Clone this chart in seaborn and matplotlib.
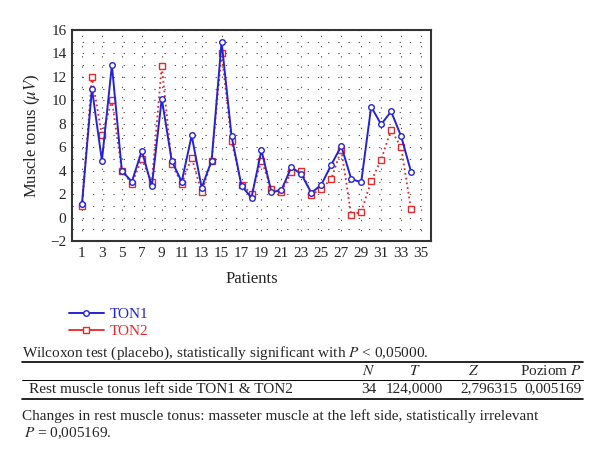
import pandas as pd
import matplotlib
matplotlib.use('Agg')
import matplotlib.pyplot as plt
import seaborn as sns
from matplotlib.lines import Line2D

# Dados
patients = list(range(1, 35))
ton1 = [1.15, 11.0, 4.85, 13.0, 4.0, 3.05, 5.7, 2.65, 10.15, 4.85,
        3.05, 7.0, 2.55, 4.85, 15.0, 6.95, 2.7, 1.7, 5.75, 2.15,
        2.35, 4.3, 3.7, 2.1, 2.8, 4.5, 6.1, 3.3, 3.0, 9.45,
        7.95, 9.05, 6.95, 3.9]
ton2 = [0.95, 12.0, 7.0, 10.0, 4.0, 2.9, 5.0, 3.0, 12.95, 4.6,
        2.9, 5.1, 2.15, 4.85, 14.0, 6.5, 2.8, 2.05, 4.85, 2.45,
        2.2, 3.9, 4.0, 1.95, 2.45, 3.3, 5.8, 0.2, 0.5, 3.1,
        4.95, 7.5, 6.0, 0.7]
x_ticks = list(range(1, 36, 2))
y_ticks = list(range(-2, 17, 2))

blue = '#2424d4'
red = '#e8282c'

sns.set_style('white')
plt.rcParams['font.family'] = ['Liberation Serif', 'DejaVu Serif']
plt.rcParams['mathtext.fontset'] = 'stix'

W, H = 600, 469
fig = plt.figure(figsize=(W / 100, H / 100), dpi=100)
ax = fig.add_axes([72 / W, 1 - 241 / H, (431 - 72) / W, (241 - 30) / H])

df = pd.DataFrame({'Patient': patients, 'TON1': ton1, 'TON2': ton2})

sns.lineplot(data=df, x='Patient', y='TON2', ax=ax, color=red, linestyle=':',
             linewidth=1.3, marker='s', markersize=4, markerfacecolor='white',
             markeredgecolor=red, markeredgewidth=1.0, label='TON2')
sns.lineplot(data=df, x='Patient', y='TON1', ax=ax, color=blue,
             linewidth=1.4, marker='o', markersize=4, markerfacecolor='white',
             markeredgecolor=blue, markeredgewidth=1.0, label='TON1')

ax.set_xlim(0, 36)
ax.set_ylim(-2, 16)
ax.set_xticks(x_ticks)
ax.set_yticks(y_ticks)
ax.set_yticks(range(-2, 17), minor=True)
ax.tick_params(which='both', length=0, labelsize=11, pad=4)
grid_style = dict(color='#555555', linewidth=0.8, linestyle=(0, (1.2, 8)))
ax.grid(which='both', axis='y', **grid_style)
ax.grid(which='major', axis='x', **grid_style)
for s in ax.spines.values():
    s.set_color('#333333')
    s.set_linewidth(1.5)

ax.set_xlabel('Patients', fontsize=12, labelpad=8)
ax.set_ylabel(r'Muscle tonus ($\mu V$)', fontsize=12, labelpad=6)

# Legenda abaixo do gráfico
handles, labels = ax.get_legend_handles_labels()
ax.legend_.remove()
order = [labels.index('TON1'), labels.index('TON2')]
leg = fig.legend([handles[i] for i in order], [labels[i] for i in order],
                 loc='upper left', bbox_to_anchor=(55 / W, 1 - 294 / H),
                 frameon=False, fontsize=11, handlelength=2.3,
                 labelcolor='linecolor', labelspacing=0.2, handletextpad=0.4)
for ln in leg.get_lines():
    ln.set_linestyle('-')


# Texto da tabela Wilcoxon
def fy(y):
    return 1 - y / H


fs = 11
fig.text(22 / W, fy(353), r'Wilcoxon test (placebo), statistically significant with $P$ < 0,05000.',
         fontsize=fs, va='center')
for yy, lw in [(362, 1.2), (380, 0.7), (399, 1.2)]:
    fig.add_artist(Line2D([22 / W, 583 / W], [fy(yy), fy(yy)], color='black', linewidth=lw,
                          transform=fig.transFigure))
fig.text(369 / W, fy(371), r'$N$', fontsize=fs, va='center', ha='center')
fig.text(415 / W, fy(371), r'$T$', fontsize=fs, va='center', ha='center')
fig.text(474 / W, fy(371), r'$Z$', fontsize=fs, va='center', ha='center')
fig.text(582 / W, fy(371), r'Poziom $P$', fontsize=fs, va='center', ha='right')
fig.text(29 / W, fy(389), 'Rest muscle tonus left side TON1 & TON2', fontsize=fs, va='center')
fig.text(376 / W, fy(389), '34', fontsize=fs, va='center', ha='right')
fig.text(443 / W, fy(389), '124,0000', fontsize=fs, va='center', ha='right')
fig.text(518 / W, fy(389), '2,796315', fontsize=fs, va='center', ha='right')
fig.text(582 / W, fy(389), '0,005169', fontsize=fs, va='center', ha='right')
fig.text(22 / W, fy(416), 'Changes in rest muscle tonus: masseter muscle at the left side, statistically irrelevant',
         fontsize=fs, va='center')
fig.text(24 / W, fy(433), r'$P$ = 0,005169.', fontsize=fs, va='center')

fig.savefig('out.png', dpi=100)
